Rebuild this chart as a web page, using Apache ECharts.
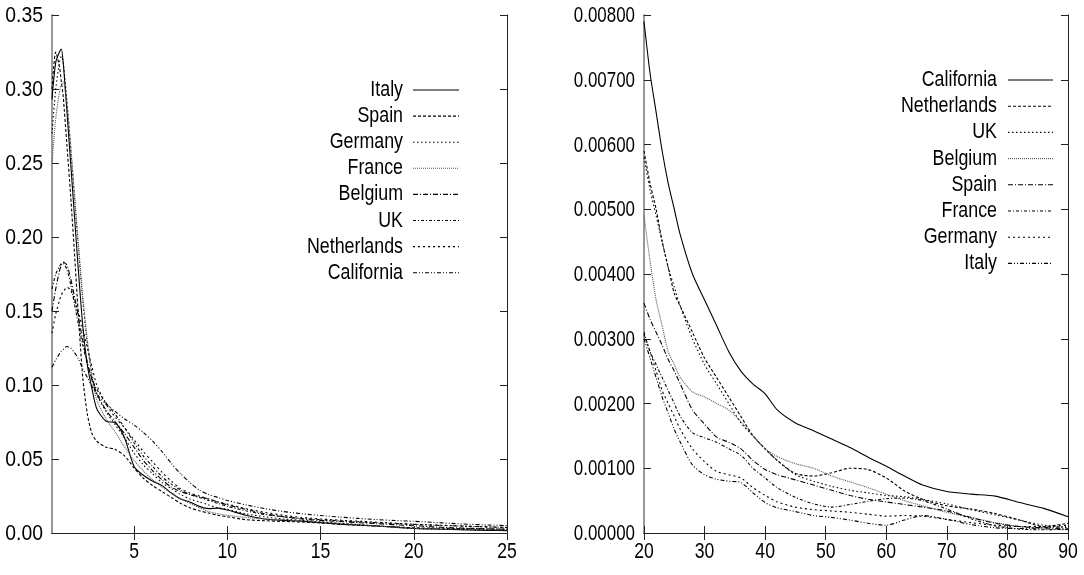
<!DOCTYPE html>
<html>
<head>
<meta charset="utf-8">
<script src="https://cdn.jsdelivr.net/npm/echarts@6/dist/echarts.min.js"></script>
<style>
  html, body { margin: 0; padding: 0; background: #fff; }
  #chart { width: 1084px; height: 575px; }
</style>
</head>
<body>
<div id="chart"></div>
<script>
// ---- data: density of values, 0.6..25 (left) and tail 20..90 (right) ----
const leftX = [0.6, 0.8, 1.0, 1.1, 1.2, 1.4, 1.6, 1.8, 2.0, 2.25, 2.5, 2.75, 3.0, 3.5, 4.0, 4.5, 5, 5.5, 6, 6.5, 7, 7.5, 8, 8.5, 9, 9.5, 10,
  11, 12, 13, 14, 15, 16, 17, 18, 19, 20, 21, 22, 23, 24, 25];

const leftItaly = [0.293, 0.318, 0.325, 0.327, 0.318, 0.285, 0.25, 0.215, 0.18, 0.14, 0.113, 0.097, 0.084, 0.0755, 0.0745, 0.064, 0.045, 0.039, 0.035, 0.032,
  0.027, 0.023, 0.021, 0.018, 0.0165, 0.0168, 0.0155, 0.012, 0.0095, 0.0085, 0.008, 0.007, 0.006, 0.0054, 0.0047, 0.004, 0.003, 0.0027, 0.0024, 0.0021, 0.0018, 0.0016];
const leftSpain = [0.30, 0.325, 0.315, 0.305, 0.295, 0.262, 0.228, 0.19, 0.15, 0.105, 0.08, 0.067, 0.062, 0.058, 0.0565, 0.052, 0.044, 0.037, 0.032, 0.028,
  0.024, 0.020, 0.017, 0.015, 0.0135, 0.012, 0.011, 0.009, 0.0083, 0.0078, 0.0074, 0.0068, 0.006, 0.0053, 0.0047, 0.0041, 0.00355, 0.0033, 0.0031, 0.0029, 0.00268, 0.0025];
const leftGermany = [0.27, 0.30, 0.318, 0.322, 0.318, 0.292, 0.26, 0.228, 0.195, 0.157, 0.127, 0.107, 0.094, 0.082, 0.073, 0.064, 0.054, 0.046, 0.040, 0.034,
  0.030, 0.026, 0.023, 0.021, 0.019, 0.017, 0.016, 0.013, 0.011, 0.0095, 0.0085, 0.0075, 0.0065, 0.0057, 0.0048, 0.0039, 0.0031, 0.0028, 0.0025, 0.0022, 0.002, 0.0018];
const leftFrance = [0.25, 0.28, 0.298, 0.303, 0.305, 0.29, 0.262, 0.23, 0.198, 0.16, 0.13, 0.105, 0.09, 0.077, 0.068, 0.058, 0.049, 0.042, 0.036, 0.031,
  0.027, 0.023, 0.020, 0.017, 0.0145, 0.013, 0.012, 0.0105, 0.0095, 0.009, 0.0083, 0.0075, 0.0066, 0.0057, 0.0047, 0.0038, 0.0031, 0.0028, 0.0026, 0.0024, 0.0022, 0.002];
const leftBelgium = [0.15, 0.165, 0.177, 0.181, 0.183, 0.181, 0.172, 0.16, 0.147, 0.13, 0.115, 0.103, 0.094, 0.083, 0.075, 0.067, 0.058, 0.049, 0.042, 0.036,
  0.031, 0.028, 0.026, 0.0245, 0.023, 0.021, 0.019, 0.016, 0.013, 0.011, 0.0095, 0.0085, 0.0078, 0.007, 0.0063, 0.0056, 0.0049, 0.0042, 0.0036, 0.0032, 0.0028, 0.0026];
const leftUK = [0.165, 0.175, 0.18, 0.182, 0.182, 0.178, 0.168, 0.155, 0.142, 0.127, 0.114, 0.104, 0.097, 0.088, 0.080, 0.071, 0.061, 0.052, 0.045, 0.038,
  0.033, 0.029, 0.026, 0.024, 0.022, 0.020, 0.018, 0.015, 0.0125, 0.011, 0.0098, 0.009, 0.0083, 0.0076, 0.007, 0.0064, 0.0058, 0.0053, 0.0049, 0.0045, 0.0041, 0.0038];
const leftNetherlands = [0.135, 0.148, 0.157, 0.161, 0.163, 0.166, 0.164, 0.158, 0.15, 0.138, 0.125, 0.112, 0.10, 0.087, 0.078, 0.071, 0.063, 0.055, 0.048, 0.041,
  0.035, 0.030, 0.027, 0.025, 0.023, 0.021, 0.0195, 0.0165, 0.014, 0.012, 0.0105, 0.0095, 0.0087, 0.008, 0.0073, 0.0066, 0.0059, 0.0054, 0.005, 0.0045, 0.0041, 0.0037];
const leftCalifornia = [0.112, 0.117, 0.121, 0.123, 0.124, 0.126, 0.125, 0.122, 0.118, 0.111, 0.105, 0.099, 0.094, 0.087, 0.082, 0.077, 0.073, 0.068, 0.062, 0.055,
  0.047, 0.040, 0.034, 0.029, 0.026, 0.024, 0.022, 0.019, 0.0165, 0.0145, 0.013, 0.0118, 0.0108, 0.0099, 0.0091, 0.0084, 0.0079, 0.0072, 0.0065, 0.0059, 0.0054, 0.005];

const rightX = [20, 21, 22, 23, 24, 25, 26, 28, 30, 32, 34, 36, 38, 40, 42, 45, 48, 51, 54, 57, 60, 63, 66, 70, 74, 78, 82, 86, 90];

const rightCalifornia = [0.0079, 0.0071, 0.0065, 0.0059, 0.0054, 0.0050, 0.0046, 0.0040, 0.0036, 0.0032, 0.0028, 0.0025, 0.0023, 0.00215, 0.0019,
  0.0017, 0.00158, 0.00145, 0.00132, 0.00117, 0.00103, 0.00088, 0.00074, 0.00064, 0.0006, 0.00057, 0.00047, 0.00038, 0.00025];
const rightNetherlands = [0.0059, 0.0054, 0.0050, 0.0045, 0.0041, 0.0037, 0.0035, 0.0031, 0.0027, 0.0024, 0.0021, 0.0018, 0.0015, 0.0013, 0.00112,
  0.00092, 0.00088, 0.00093, 0.001, 0.00098, 0.00085, 0.00065, 0.00052, 0.00042, 0.00037, 0.0003, 0.0002, 0.0001, 0.00015];
const rightUK = [0.0058, 0.0053, 0.0049, 0.0045, 0.0041, 0.0038, 0.0035, 0.003, 0.0026, 0.0023, 0.002, 0.0017, 0.0015, 0.0013, 0.00112,
  0.0009, 0.0008, 0.00072, 0.00066, 0.00062, 0.00058, 0.00056, 0.00052, 0.00045, 0.00036, 0.00028, 0.0002, 0.00012, 0.00008];
const rightBelgium = [0.0049, 0.0042, 0.0036, 0.0032, 0.0028, 0.0026, 0.0024, 0.00218, 0.0021, 0.002, 0.0019, 0.00172, 0.0015, 0.0013, 0.00118,
  0.00107, 0.001, 0.00088, 0.00079, 0.0007, 0.0006, 0.0005, 0.00042, 0.00032, 0.00024, 0.00016, 0.0001, 0.00006, 0.00005];
const rightSpain = [0.00355, 0.0033, 0.0031, 0.0029, 0.00268, 0.0025, 0.0023, 0.0019, 0.00168, 0.00148, 0.0014, 0.0013, 0.00112, 0.00098, 0.0009,
  0.00082, 0.00074, 0.00066, 0.00058, 0.00052, 0.00048, 0.00044, 0.0004, 0.00034, 0.00024, 0.00015, 0.0001, 0.00008, 0.00006];
const rightFrance = [0.0031, 0.0028, 0.0026, 0.0024, 0.0022, 0.002, 0.0018, 0.00155, 0.00147, 0.0014, 0.0013, 0.0012, 0.001, 0.00085, 0.0007,
  0.00055, 0.00045, 0.0004, 0.00044, 0.00049, 0.00053, 0.00054, 0.0005, 0.00037, 0.00022, 0.00011, 0.00006, 0.00005, 0.00006];
const rightGermany = [0.00306, 0.0028, 0.0025, 0.0022, 0.002, 0.0018, 0.0016, 0.0013, 0.0011, 0.00095, 0.0009, 0.00085, 0.0007, 0.00058, 0.00048,
  0.0004, 0.00036, 0.00034, 0.00032, 0.00029, 0.00026, 0.00027, 0.00026, 0.00021, 0.00016, 0.00012, 0.0001, 0.0001, 0.00012];
const rightItaly = [0.003, 0.0027, 0.0024, 0.0021, 0.00185, 0.0016, 0.0014, 0.00105, 0.0009, 0.00083, 0.0008, 0.00078, 0.00062, 0.00047, 0.00039,
  0.00033, 0.00027, 0.00024, 0.0002, 0.00015, 0.00012, 0.0002, 0.00027, 0.00021, 0.00013, 0.00008, 0.00007, 0.00008, 0.0001];

// key order (also decides the line pattern of each curve)
const leftOrder = ['Italy', 'Spain', 'Germany', 'France', 'Belgium', 'UK', 'Netherlands', 'California'];
const rightOrder = ['California', 'Netherlands', 'UK', 'Belgium', 'Spain', 'France', 'Germany', 'Italy'];

// tick values
const leftXTicks = [5, 10, 15, 20, 25];
const leftYTicks = [0, 0.05, 0.10, 0.15, 0.20, 0.25, 0.30, 0.35];
const rightXTicks = [20, 30, 40, 50, 60, 70, 80, 90];
const rightYTicks = [0, 0.001, 0.002, 0.003, 0.004, 0.005, 0.006, 0.007, 0.008];

// ---- rendering ----
const leftSeriesData = {
  Italy: leftItaly, Spain: leftSpain, Germany: leftGermany, France: leftFrance,
  Belgium: leftBelgium, UK: leftUK, Netherlands: leftNetherlands, California: leftCalifornia
};
const rightSeriesData = {
  California: rightCalifornia, Netherlands: rightNetherlands, UK: rightUK, Belgium: rightBelgium,
  Spain: rightSpain, France: rightFrance, Germany: rightGermany, Italy: rightItaly
};

// narrow Helvetica-like lettering: Liberation Sans squeezed horizontally
const FONT_FAMILY = '"Liberation Sans", Arial, Helvetica, sans-serif';
const FONT_SIZE = 22;
const FONT = FONT_SIZE + 'px ' + FONT_FAMILY;

// line patterns, in key order: solid, dashed, dotted, fine dots, dash-dot, short dash-dot, sparse, dash-dot-dot
const patterns = [
  { dash: null, color: '#000' },
  { dash: [3, 2], color: '#000' },
  { dash: [1.5, 2.5], color: '#000' },
  { dash: [1, 1], color: '#555' },
  { dash: [5, 2, 1, 2], color: '#000' },
  { dash: [3, 2, 1, 2], color: '#000' },
  { dash: [2, 3], color: '#000' },
  { dash: [4, 2, 1, 2, 1, 2], color: '#000' }
];

const grids = [
  { left: 52, top: 15, width: 455, height: 518 },
  { left: 644, top: 15, width: 424, height: 518 }
];

function makeSeries(order, xs, table, gi) {
  return order.map((name, i) => ({
    name: name,
    type: 'line',
    xAxisIndex: gi * 2,
    yAxisIndex: gi * 2,
    data: xs.map((x, k) => [x, table[name][k]]),
    showSymbol: false,
    symbol: 'none',
    smooth: 0.25,
    lineStyle: { color: patterns[i].color, width: 1.1, type: patterns[i].dash || 'solid' },
    emphasis: { disabled: true },
    animation: false
  }));
}

function xAxes(gi, min, max, ticks) {
  const common = {
    type: 'value', gridIndex: gi, min: min, max: max,
    splitLine: { show: false },
    axisLabel: { show: false },
    axisLine: { show: true, lineStyle: { color: '#222', width: 1 } },
    axisTick: { show: true, inside: true, length: 7, customValues: ticks, lineStyle: { color: '#222' } }
  };
  return [
    Object.assign({}, common, { position: 'bottom' }),
    Object.assign({}, common, { position: 'top' })
  ];
}

function yAxes(gi, max, step) {
  const common = {
    type: 'value', gridIndex: gi, min: 0, max: max, interval: step,
    splitLine: { show: false },
    axisLabel: { show: false },
    axisTick: { show: true, inside: true, length: 7, lineStyle: { color: '#222' } }
  };
  return [
    Object.assign({}, common, {
      position: 'left',
      axisLine: { show: true, lineStyle: { color: '#999', width: 2 } }
    }),
    Object.assign({}, common, {
      position: 'right',
      axisLine: { show: true, lineStyle: { color: '#222', width: 1 } }
    })
  ];
}

const chart = echarts.init(document.getElementById('chart'), null, { renderer: 'canvas' });
chart.setOption({
  backgroundColor: '#fff',
  animation: false,
  grid: grids,
  xAxis: xAxes(0, 0.6, 25, leftXTicks).concat(xAxes(1, 20, 90, rightXTicks)),
  yAxis: yAxes(0, 0.35, 0.05).concat(yAxes(1, 0.008, 0.001)),
  series: makeSeries(leftOrder, leftX, leftSeriesData, 0)
    .concat(makeSeries(rightOrder, rightX, rightSeriesData, 1))
});

// tick labels, placed through the axes' own scales
function label(text, x, y, align, squeeze) {
  return {
    type: 'text', x: x, y: y, scaleX: squeeze, silent: true,
    style: { text: text, font: FONT, fill: '#000', align: align, verticalAlign: 'middle' }
  };
}

function tickLabels(gi, xTicks, yTicks, digits, ySqueeze) {
  const out = [];
  const axisBottom = chart.convertToPixel({ yAxisIndex: gi * 2 }, 0);
  const axisLeft = chart.convertToPixel({ xAxisIndex: gi * 2 }, gi === 0 ? 0.6 : 20);
  xTicks.forEach(v => {
    out.push(label(String(v), chart.convertToPixel({ xAxisIndex: gi * 2 }, v), axisBottom + 19, 'center', 0.8));
  });
  yTicks.forEach(v => {
    out.push(label(v.toFixed(digits), axisLeft - 9, chart.convertToPixel({ yAxisIndex: gi * 2 }, v) + 1, 'right', ySqueeze));
  });
  return out;
}

// keys drawn as text + sample stroke, text right-aligned against the sample
function keyGraphics(order, textRight, lineX1, lineX2, firstY, rowStep) {
  const out = [];
  order.forEach((name, i) => {
    const y = firstY + i * rowStep;
    out.push(label(name, textRight, y, 'right', 0.81));
    out.push({
      type: 'line', silent: true,
      shape: { x1: lineX1, y1: y, x2: lineX2, y2: y },
      style: { stroke: patterns[i].color, lineWidth: 1.1, lineDash: patterns[i].dash }
    });
  });
  return out;
}

chart.setOption({
  graphic: tickLabels(0, leftXTicks, leftYTicks, 2, 0.88)
    .concat(tickLabels(1, rightXTicks, rightYTicks, 5, 0.77))
    .concat(keyGraphics(leftOrder, 403, 413, 459, 90, 26.1))
    .concat(keyGraphics(rightOrder, 997, 1008, 1053, 80, 26.2))
});
</script>
</body>
</html>
